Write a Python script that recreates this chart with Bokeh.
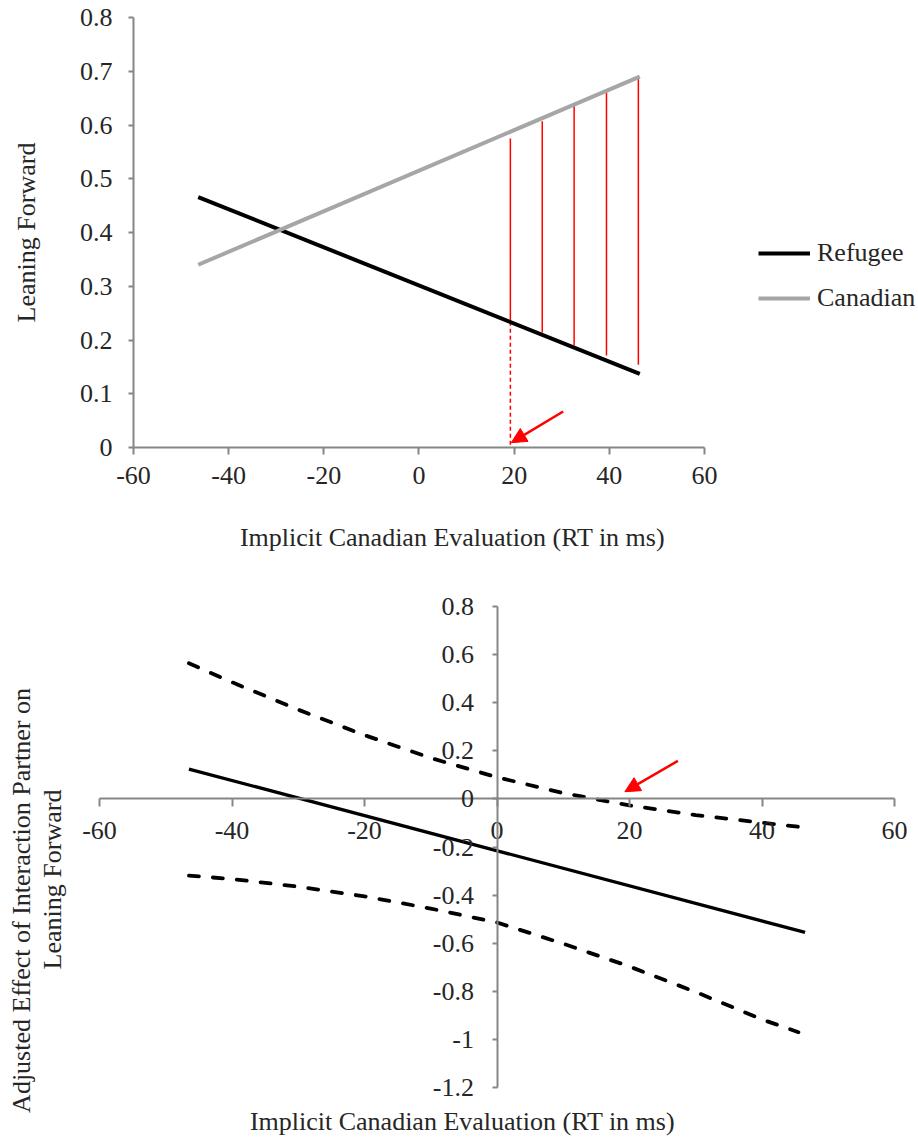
import math
from bokeh.plotting import figure
from bokeh.layouts import column
from bokeh.models import Range1d, FixedTicker, Label, Legend, LegendItem, Arrow, NormalHead
from bokeh.embed import file_html
from bokeh.resources import INLINE

# ---------------- data: top chart ----------------
line_x = [-46.4, 46.4]
refugee = [0.466, 0.137]
canadian = [0.340, 0.690]
jn_x = [19.2, 25.9, 32.6, 39.4, 46.1]
jn_bottom = [0.234, 0.214, 0.190, 0.171, 0.154]
jn_top = [0.575, 0.607, 0.640, 0.662, 0.688]
jn_cut_x = [19.2]
jn_cut_top = [0.234]
jn_cut_bottom = [0.0]
arrow1 = [30.3, 0.067, 19.4, 0.009]   # x_start, y_start, x_end, y_end

top_x_ticks = [-60, -40, -20, 0, 20, 40, 60]
top_x_labels = ["-60", "-40", "-20", "0", "20", "40", "60"]
top_y_ticks = [0, 0.1, 0.2, 0.3, 0.4, 0.5, 0.6, 0.7, 0.8]
top_y_labels = ["0", "0.1", "0.2", "0.3", "0.4", "0.5", "0.6", "0.7", "0.8"]

# ---------------- data: bottom chart ----------------
eff_x = [-46.5, 46.5]
effect = [0.124, -0.555]
ci_x = [-46.5, -40, -30, -20, -10, 0, 10, 20, 30, 40, 45.5]
ci_upper = [0.564, 0.485, 0.371, 0.265, 0.170, 0.090, 0.024, -0.027, -0.067, -0.099, -0.116]
ci_lower = [-0.319, -0.333, -0.365, -0.405, -0.456, -0.514, -0.602, -0.697, -0.803, -0.917, -0.970]
arrow2 = [27.3, 0.158, 19.3, 0.03]

bot_x_ticks = [-60, -40, -20, 0, 20, 40, 60]
bot_x_labels = ["-60", "-40", "-20", "0", "20", "40", "60"]
bot_y_ticks = [0.8, 0.6, 0.4, 0.2, 0, -0.2, -0.4, -0.6, -0.8, -1.0, -1.2]
bot_y_labels = ["0.8", "0.6", "0.4", "0.2", "0", "-0.2", "-0.4", "-0.6", "-0.8", "-1", "-1.2"]

FONT = "Liberation Serif"
FS = "26px"
AX = "#868686"
TXT = "#262626"


def style_axis(ax, tick_out):
    ax.axis_line_color = AX
    ax.axis_line_width = 2
    ax.major_tick_line_color = AX
    ax.major_tick_line_width = 2
    ax.major_tick_out = tick_out
    ax.major_tick_in = 0
    ax.minor_tick_line_color = None
    ax.major_label_text_font = FONT
    ax.major_label_text_font_size = FS
    ax.major_label_text_color = TXT


def txt(x, y, s, angle=0.0):
    return Label(x=x, y=y, x_units="screen", y_units="screen", angle=angle, text=s,
                 text_align="center", text_baseline="middle", text_font=FONT,
                 text_font_size=FS, text_color=TXT)


# ================= top figure =================
# frame fills the whole canvas; ranges chosen so that -60..60 sits at px 133..704, 0..0.8 at px 447..17
W1, H1 = 918, 570
p1 = figure(width=W1, height=H1, output_backend="svg", toolbar_location=None,
            x_range=Range1d(-60 - 133 / 4.7583, 60 + 214 / 4.7583),
            y_range=Range1d(0 - 123 / 537.5, 0.8 + 17 / 537.5),
            min_border=0)
p1.outline_line_color = None
p1.xgrid.grid_line_color = None
p1.ygrid.grid_line_color = None
p1.xaxis.ticker = FixedTicker(ticks=top_x_ticks)
p1.xaxis.major_label_overrides = dict(zip(top_x_ticks, top_x_labels))
p1.yaxis.ticker = FixedTicker(ticks=top_y_ticks)
p1.yaxis.major_label_overrides = dict(zip(top_y_ticks, top_y_labels))
style_axis(p1.xaxis[0], 7)
style_axis(p1.yaxis[0], 5)
p1.xaxis.fixed_location = 0
p1.yaxis.fixed_location = -60
p1.xaxis.bounds = (-60, 60)
p1.yaxis.bounds = (0, 0.8)
p1.xaxis.major_label_standoff = 12
p1.yaxis.major_label_standoff = 16

p1.segment(x0=jn_x, y0=jn_bottom, x1=jn_x, y1=jn_top, line_color="red", line_width=1.5)
p1.segment(x0=jn_cut_x, y0=jn_cut_top, x1=jn_cut_x, y1=jn_cut_bottom, line_color="red",
           line_width=1.5, line_dash="4 3")
r_ref = p1.line(line_x, refugee, line_color="black", line_width=4)
r_can = p1.line(line_x, canadian, line_color="#A6A6A6", line_width=4)
p1.add_layout(Arrow(end=NormalHead(size=15, fill_color="red", line_color="red", line_width=1),
                    x_start=arrow1[0], y_start=arrow1[1], x_end=arrow1[2], y_end=arrow1[3],
                    line_color="red", line_width=2.5))

legend = Legend(items=[LegendItem(label="Refugee", renderers=[r_ref]),
                       LegendItem(label="Canadian", renderers=[r_can])],
                location=(758, H1 - 313), orientation="vertical",
                glyph_width=52, glyph_height=20, label_standoff=7, spacing=15,
                padding=0, margin=0, border_line_color=None, background_fill_alpha=0,
                label_text_font=FONT, label_text_font_size=FS, label_text_color=TXT)
p1.add_layout(legend)

p1.add_layout(txt(452, H1 - 537, "Implicit Canadian Evaluation (RT in ms)"))
p1.add_layout(txt(26, H1 - 232, "Leaning Forward", math.pi / 2))

# ================= bottom figure =================
# -60..60 at px 99..894, 0.8..-1.2 at px 36..517 (canvas starts at page y 570)
W2, H2 = 918, 573
p2 = figure(width=W2, height=H2, output_backend="svg", toolbar_location=None,
            x_range=Range1d(-60 - 99 / 6.625, 60 + 24 / 6.625),
            y_range=Range1d(-1.2 - 56 / 240.5, 0.8 + 36 / 240.5),
            min_border=0)
p2.outline_line_color = None
p2.xgrid.grid_line_color = None
p2.ygrid.grid_line_color = None
p2.xaxis.ticker = FixedTicker(ticks=bot_x_ticks)
p2.xaxis.major_label_overrides = dict(zip(bot_x_ticks, bot_x_labels))
p2.yaxis.ticker = FixedTicker(ticks=bot_y_ticks)
p2.yaxis.major_label_overrides = dict(zip(bot_y_ticks, bot_y_labels))
style_axis(p2.xaxis[0], 8)
style_axis(p2.yaxis[0], 5)
p2.xaxis.fixed_location = 0
p2.yaxis.fixed_location = 0
p2.xaxis.bounds = (-60, 60)
p2.yaxis.bounds = (-1.2, 0.8)
p2.xaxis.major_label_standoff = 15
p2.yaxis.major_label_standoff = 18

p2.line(ci_x, ci_upper, line_color="black", line_width=3.8, line_dash="10 14", line_cap="round")
p2.line(ci_x, ci_lower, line_color="black", line_width=3.8, line_dash="10 14", line_cap="round")
p2.line(eff_x, effect, line_color="black", line_width=3.3)
p2.add_layout(Arrow(end=NormalHead(size=15, fill_color="red", line_color="red", line_width=1),
                    x_start=arrow2[0], y_start=arrow2[1], x_end=arrow2[2], y_end=arrow2[3],
                    line_color="red", line_width=2.5))

p2.add_layout(txt(462, H2 - 551, "Implicit Canadian Evaluation (RT in ms)"))
p2.add_layout(txt(21, H2 - 330, "Adjusted Effect of Interaction Partner on", math.pi / 2))
p2.add_layout(txt(52, H2 - 309, "Leaning Forward", math.pi / 2))

layout = column(p1, p2, spacing=0)
open("out.html", "w").write(file_html(layout, INLINE))
